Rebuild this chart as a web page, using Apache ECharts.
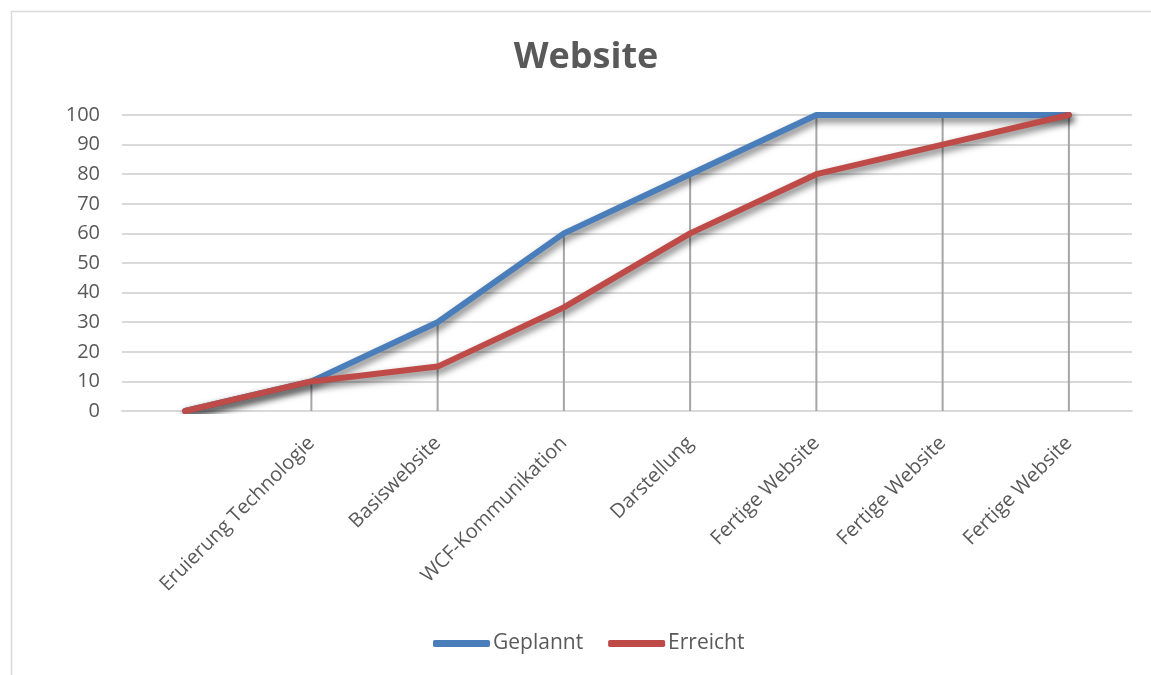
<!DOCTYPE html>
<html>
<head>
<meta charset="utf-8">
<script src="https://cdn.jsdelivr.net/npm/echarts@6/dist/echarts.min.js"></script>
<style>
html,body{margin:0;padding:0;background:#fff;}
#c{width:1151px;height:675px;}
</style>
</head>
<body>
<div id="c"></div>
<script>
var categories = ["", "Eruierung Technologie", "Basiswebsite", "WCF-Kommunikation", "Darstellung", "Fertige Website", "Fertige Website", "Fertige Website"];
var geplannt = [0, 10, 30, 60, 80, 100, 100, 100];
var erreicht = [0, 10, 15, 35, 60, 80, 90, 100];
var yTicks = [0, 10, 20, 30, 40, 50, 60, 70, 80, 90, 100];

var dropLines = geplannt.map(function (v, i) { return Math.max(v, erreicht[i]); });
var FONT = "'Open Sans', sans-serif";
var chart = echarts.init(document.getElementById('c'), null, {renderer: 'canvas'});
var shadow = {shadowColor: 'rgba(0,0,0,0.55)', shadowBlur: 7, shadowOffsetX: 2, shadowOffsetY: 4};
chart.setOption({
  backgroundColor: '#fff',
  animation: false,
  graphic: [{
    type: 'rect', left: 9, top: 9, shape: {width: 1200, height: 700},
    style: {fill: 'none', stroke: '#d9d9d9', lineWidth: 1.5}, silent: true, z: -1
  }],
  title: {
    text: 'Website', left: 581, top: 35, textAlign: 'center',
    textStyle: {fontFamily: FONT, fontSize: 36, fontWeight: 'bold', color: '#595959'}
  },
  legend: {
    data: ['Geplannt', 'Erreicht'], left: 428, top: 628,
    icon: 'roundRect', itemWidth: 57, itemHeight: 7, itemGap: 25,
    textStyle: {fontFamily: FONT, fontSize: 21, color: '#595959', padding: [0, 0, 0, -2]}
  },
  grid: {left: 122, right: 19, top: 115, bottom: 264, containLabel: false},
  xAxis: {
    type: 'category', data: categories, boundaryGap: true,
    axisLine: {show: true, lineStyle: {color: '#d9d9d9', width: 2}},
    axisTick: {show: false},
    axisLabel: {rotate: 45, interval: 0, margin: 29, fontFamily: FONT, fontSize: 20, color: '#595959'}
  },
  yAxis: {
    type: 'value', min: 0, max: 100, interval: 10,
    axisLine: {show: false}, axisTick: {show: false},
    axisLabel: {margin: 22, fontFamily: FONT, fontSize: 20, color: '#595959'},
    splitLine: {lineStyle: {color: '#d9d9d9', width: 2}}
  },
  series: [
    {
      name: 'drop', type: 'bar', data: dropLines, barWidth: 2, silent: true,
      itemStyle: {color: '#a5a5a5'}, z: 1
    },
    {
      name: 'Geplannt', type: 'line', data: geplannt, symbol: 'none',
      lineStyle: Object.assign({color: '#4a7ebb', width: 6, cap: 'round'}, shadow),
      itemStyle: {color: '#4a7ebb'}, z: 3
    },
    {
      name: 'Erreicht', type: 'line', data: erreicht, symbol: 'none',
      lineStyle: Object.assign({color: '#be4b48', width: 6, cap: 'round'}, shadow),
      itemStyle: {color: '#be4b48'}, z: 4
    }
  ]
});
</script>
</body>
</html>
